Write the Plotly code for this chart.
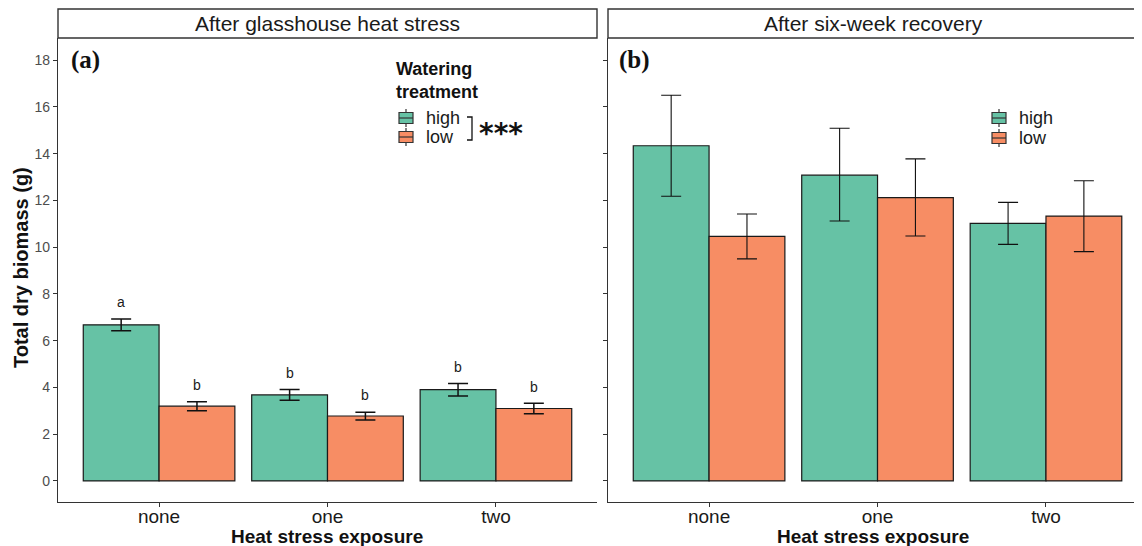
import plotly.graph_objects as go

# ---------------- data ----------------
exposure = ["none", "one", "two"]
treatments = ["high", "low"]

# Panel (a): after glasshouse heat stress
a_high = [6.68, 3.68, 3.91]
a_high_up = [0.25, 0.23, 0.26]
a_high_dn = [0.25, 0.23, 0.27]
a_low = [3.20, 2.78, 3.10]
a_low_up = [0.19, 0.16, 0.22]
a_low_dn = [0.20, 0.17, 0.22]
a_letters_high = ["a", "b", "b"]
a_letters_low = ["b", "b", "b"]

# Panel (b): after six-week recovery
b_high = [14.34, 13.08, 11.02]
b_high_up = [2.16, 2.01, 0.90]
b_high_dn = [2.16, 1.96, 0.90]
b_low = [10.46, 12.12, 11.33]
b_low_up = [0.96, 1.66, 1.51]
b_low_dn = [0.96, 1.64, 1.52]

y_ticks = [0, 2, 4, 6, 8, 10, 12, 14, 16, 18]
colors = {"high": "#66C2A5", "low": "#F78D64"}

# ---------------- layout geometry ----------------
# the page body adds an 8px offset, so the figure is drawn 8px smaller
OFF = 8
W, H = 1142 - OFF, 546 - OFF
ML, MR, MT, MB = 58 - OFF, 0, 38 - OFF, 546 - 502
pw = W - ML - MR
ph = H - MT - MB


def px_x(p):
    """screen x pixel -> paper coordinate"""
    return (p - OFF - ML) / pw


def px_y(p):
    """screen y pixel -> paper coordinate"""
    return (H - MB - (p - OFF)) / ph


a_dom = [0, px_x(597)]
b_dom = [px_x(608), 1.0]

fig = go.Figure()

panels = [
    ("x", "y", a_high, a_high_up, a_high_dn, a_low, a_low_up, a_low_dn, 1.5),
    ("x2", "y2", b_high, b_high_up, b_high_dn, b_low, b_low_up, b_low_dn, 1.1),
]
for xa, ya, hv, hu, hd, lv, lu, ld, ew in panels:
    for name, vals, up, dn in [("high", hv, hu, hd), ("low", lv, lu, ld)]:
        fig.add_trace(go.Bar(
            x=exposure, y=vals, name=name, xaxis=xa, yaxis=ya, showlegend=False,
            marker=dict(color=colors[name], line=dict(color="#1a1a1a", width=1.2)),
            error_y=dict(type="data", symmetric=False, array=up, arrayminus=dn,
                         color="#111111", thickness=ew, width=10),
            offsetgroup=name,
        ))

# significance letters for panel (a)
for i, cat in enumerate(exposure):
    for off, vals, up, letters in [(-0.225, a_high, a_high_up, a_letters_high),
                                   (0.225, a_low, a_low_up, a_letters_low)]:
        fig.add_annotation(x=i + off, y=vals[i] + up[i] + 0.72, xref="x", yref="y",
                           text=letters[i], showarrow=False, yanchor="middle", xanchor="center",
                           font=dict(family="Liberation Sans, Arial", size=14, color="#1a1a1a"))

axis_common = dict(showline=True, linecolor="#333333", linewidth=1.4, ticks="outside",
                   ticklen=4, tickcolor="#333333", tickwidth=1, showgrid=False,
                   zeroline=False, mirror=False, automargin=False)
yr = [-0.9, 18.95]
fig.update_layout(
    width=W, height=H,
    margin=dict(l=ML, r=MR, t=MT, b=MB),
    paper_bgcolor="white", plot_bgcolor="white",
    barmode="group", bargap=0.1, bargroupgap=0,
    font=dict(family="Liberation Sans, Arial", color="#1a1a1a"),
    showlegend=False,
    xaxis=dict(domain=a_dom, anchor="y", range=[-0.6, 2.6], type="category",
               tickfont=dict(size=19, color="#1a1a1a"), ticklabelstandoff=-7, **axis_common),
    xaxis2=dict(domain=b_dom, anchor="y2", range=[-0.6, 2.57], type="category",
                tickfont=dict(size=19, color="#1a1a1a"), ticklabelstandoff=-7, **axis_common),
    yaxis=dict(domain=[0, 1], anchor="x", range=yr, tickvals=y_ticks,
               tickfont=dict(size=14, color="#4d4d4d"), **axis_common),
    yaxis2=dict(domain=[0, 1], anchor="x2", range=yr, tickvals=y_ticks,
                showticklabels=False, **axis_common),
)

# axis titles
fig.add_annotation(x=px_x(21), y=px_y(268), xref="paper", yref="paper", textangle=-90,
                   text="<b>Total dry biomass (g)</b>", showarrow=False,
                   xanchor="center", yanchor="middle", font=dict(size=20, color="#111111"))
for cx in (327, 873):
    fig.add_annotation(x=px_x(cx), y=px_y(536), xref="paper", yref="paper",
                       text="<b>Heat stress exposure</b>", showarrow=False,
                       xanchor="center", yanchor="middle", font=dict(size=19, color="#111111"))

# facet strips
strip_top = px_y(9)
for x0, x1, cx, label in [(58, 597, 327, "After glasshouse heat stress"),
                          (608, 1150, 873, "After six-week recovery")]:
    fig.add_shape(type="rect", xref="paper", yref="paper", x0=px_x(x0), x1=px_x(x1),
                  y0=1.0, y1=strip_top,
                  line=dict(color="#333333", width=1.4), fillcolor="white", layer="above")
    fig.add_annotation(x=px_x(cx), y=(1.0 + strip_top) / 2, xref="paper", yref="paper",
                       text=label, showarrow=False, xanchor="center", yanchor="middle",
                       font=dict(size=21, color="#1a1a1a"))

# panel tags
for xp, tag in [(69, "(a)"), (617, "(b)")]:
    fig.add_annotation(x=px_x(xp), y=px_y(60), xref="paper", yref="paper", xanchor="left",
                       yanchor="middle", text="<b>%s</b>" % tag, showarrow=False,
                       font=dict(family="Liberation Serif, Times New Roman", size=25, color="#111111"))


# legends (drawn as keys + text)
def legend_key(cx, cy, color):
    fig.add_shape(type="line", xref="paper", yref="paper",
                  x0=px_x(cx), x1=px_x(cx), y0=px_y(cy - 9), y1=px_y(cy + 9),
                  line=dict(color="#333333", width=1.2))
    fig.add_shape(type="rect", xref="paper", yref="paper",
                  x0=px_x(cx - 7), x1=px_x(cx + 7), y0=px_y(cy - 5.5), y1=px_y(cy + 5.5),
                  line=dict(color="#333333", width=1.2), fillcolor=color)
    fig.add_shape(type="line", xref="paper", yref="paper",
                  x0=px_x(cx - 7), x1=px_x(cx + 7), y0=px_y(cy), y1=px_y(cy),
                  line=dict(color="#333333", width=1.2))


fig.add_annotation(x=px_x(394), y=px_y(80), xref="paper", yref="paper", xanchor="left",
                   yanchor="middle", align="left", showarrow=False,
                   text="<b>Watering<br>treatment</b>",
                   font=dict(size=18, color="#111111"))
for (kx, tx, ys) in [(406, 424, (118, 137)), (999, 1017, (118, 138))]:
    for name, ky in zip(treatments, ys):
        legend_key(kx, ky, colors[name])
        fig.add_annotation(x=px_x(tx), y=px_y(ky), xref="paper", yref="paper", xanchor="left",
                           yanchor="middle", text=name, showarrow=False,
                           font=dict(size=18, color="#1a1a1a"))

# significance bracket and stars beside legend (a)
fig.add_shape(type="path", xref="paper", yref="paper",
              path="M %f %f L %f %f L %f %f L %f %f" % (
                  px_x(467), px_y(117), px_x(472), px_y(117),
                  px_x(472), px_y(140), px_x(467), px_y(140)),
              line=dict(color="#111111", width=1.3))
fig.add_annotation(x=px_x(477), y=px_y(134), xref="paper", yref="paper", xanchor="left",
                   yanchor="middle", text="<b>***</b>", showarrow=False,
                   font=dict(family="DejaVu Sans", size=28, color="#111111"))

fig.write_html("out.html")
